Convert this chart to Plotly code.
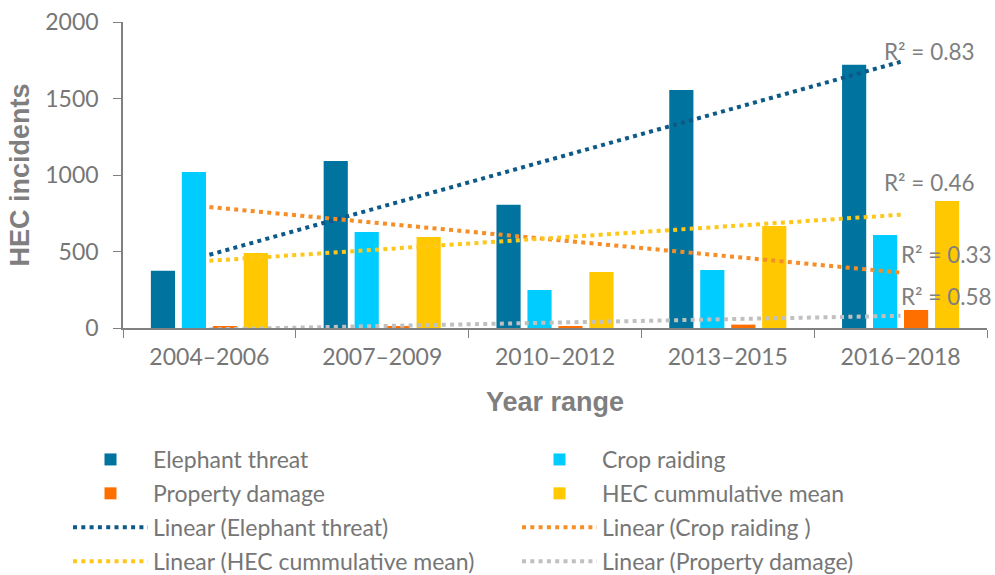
import numpy as np
import plotly.graph_objects as go

categories = ["2004–2006", "2007–2009", "2010–2012", "2013–2015", "2016–2018"]
elephant_threat = [375, 1091, 805, 1555, 1720]
crop_raiding = [1020, 627, 248, 379, 608]
property_damage = [12, 12, 13, 22, 118]
hec_mean = [490, 595, 366, 667, 830]
r2_labels = {"elephant": "R² = 0.83", "hec": "R² = 0.46", "crop": "R² = 0.33", "property": "R² = 0.58"}
y_ticks = [0, 500, 1000, 1500, 2000]

C_ELE = "#00739E"
C_CROP = "#00CCFF"
C_PROP = "#FF6F00"
C_HEC = "#FFC800"
T_ELE = "#0D5A89"
T_CROP = "#F78D26"
T_HEC = "#FFC71A"
T_PROP = "#C0C0C0"

FONT = "Lato, 'Open Sans', sans-serif"
TXT = "#767676"

def trend(vals):
    x = np.arange(1, len(vals) + 1)
    k, b = np.polyfit(x, vals, 1)
    return list(k * x + b)

fig = go.Figure()
bars = [
    ("Elephant threat", elephant_threat, C_ELE, "legend"),
    ("Crop raiding", crop_raiding, C_CROP, "legend2"),
    ("Property damage", property_damage, C_PROP, "legend"),
    ("HEC cummulative mean", hec_mean, C_HEC, "legend2"),
]
for name, vals, col, lg in bars:
    fig.add_trace(go.Bar(x=categories, y=vals, name=name, marker=dict(color=col, line=dict(width=0)),
                         legend=lg, legendgroup=name))

trends = [
    ("Linear (Elephant threat)", elephant_threat, T_ELE, "legend"),
    ("Linear (Crop raiding )", crop_raiding, T_CROP, "legend2"),
    ("Linear (HEC cummulative mean)", hec_mean, T_HEC, "legend"),
    ("Linear (Property damage)", property_damage, T_PROP, "legend2"),
]
for name, vals, col, lg in trends:
    fig.add_trace(go.Scatter(x=categories, y=trend(vals), name=name, mode="lines",
                             line=dict(color=col, width=4, dash="4px,4.3px"),
                             legend=lg, legendgroup=name))

ann_font = dict(family=FONT, size=22.5, color="#7f7f7f")
for key, yv, shift in [("elephant", 1808, -19), ("hec", 950, -19), ("crop", 480, -2), ("property", 203, -2)]:
    fig.add_annotation(x=4, y=yv, xref="x", yref="y", text=r2_labels[key], showarrow=False,
                       xanchor="left", yanchor="middle", xshift=shift, font=ann_font)

# body margin is removed in the page (post_script), so figure pixels == window pixels
PLOT_TOP, PLOT_BOT, PLOT_L, PLOT_R = 22, 328, 123, 987
PLOT_W = PLOT_R - PLOT_L
def px_y(p):
    return (PLOT_BOT - p) / (PLOT_BOT - PLOT_TOP)
def px_x(p):
    return (p - PLOT_L) / PLOT_W

W, H = 995, 575
legend_common = dict(orientation="v", yanchor="top", xanchor="left",
                     font=dict(family=FONT, size=23, color=TXT), tracegroupgap=1,
                     bgcolor="rgba(0,0,0,0)", itemwidth=75)
fig.update_layout(
    width=W, height=H,
    margin=dict(l=PLOT_L, r=W - PLOT_R, t=PLOT_TOP, b=H - PLOT_BOT, autoexpand=False),
    plot_bgcolor="white", paper_bgcolor="white",
    barmode="group", bargap=0.283, bargroupgap=0.22,
    font=dict(family=FONT, color=TXT),
    legend=dict(x=px_x(68), y=px_y(438), **legend_common),
    legend2=dict(x=px_x(517), y=px_y(438), **legend_common),
    xaxis=dict(
        type="category", range=[-0.5, len(categories) - 0.5],
        tickson="boundaries", ticks="outside", ticklen=8, tickcolor="#808080",
        showline=True, linecolor="#808080", linewidth=1.5, showgrid=False,
        tickfont=dict(family=FONT, size=23, color=TXT), ticklabelstandoff=8,
        automargin=False,
        title=dict(text="<b>Year range</b>", font=dict(family="'Liberation Sans', Arial, sans-serif", size=27, color="#7f7f7f"), standoff=23),
    ),
    yaxis=dict(
        range=[0, 2000], tickvals=y_ticks, ticks="outside", ticklen=8, tickcolor="#808080",
        showline=True, linecolor="#808080", linewidth=1.5, showgrid=False, zeroline=False,
        tickfont=dict(family=FONT, size=23, color=TXT), ticklabelstandoff=10,
        ticklabeloverflow="allow", automargin=False,
        title=dict(text="<b>HEC incidents</b>", font=dict(family="'Liberation Sans', Arial, sans-serif", size=27, color="#7f7f7f"), standoff=8),
    ),
)
fig.write_html("out.html", config={"displayModeBar": False},
               post_script="document.body.style.margin='0';document.body.style.overflow='hidden';")
